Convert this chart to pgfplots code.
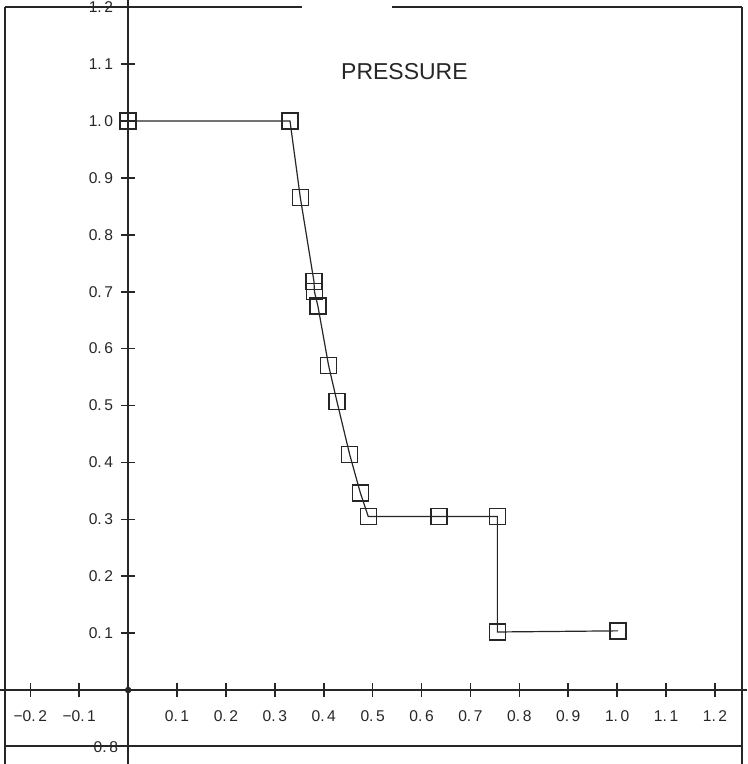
\documentclass[border=0pt]{standalone}
\usepackage{fontspec}
\setmainfont{Liberation Sans}
\usepackage{pgfplots}
\pgfplotsset{compat=1.18}

\definecolor{ink}{gray}{0.15}

\begin{document}
\begin{tikzpicture}
\begin{axis}[
  scale only axis,
  width=373.5pt, height=382pt,
  xmin=-0.262, xmax=1.2655,
  ymin=-0.130, ymax=1.2127,
  axis lines=middle,
  axis line style={-, line width=0.9pt, ink},
  clip=false,
  xtick={-0.2,-0.1,0.1,0.2,0.3,0.4,0.5,0.6,0.7,0.8,0.9,1.0,1.1,1.2},
  xticklabels={−0.\,2,−0.\,1,0.\,1,0.\,2,0.\,3,0.\,4,0.\,5,0.\,6,0.\,7,0.\,8,0.\,9,1.\,0,1.\,1,1.\,2},
  ytick={0.1,0.2,0.3,0.4,0.5,0.6,0.7,0.8,0.9,1.0,1.1,1.2},
  yticklabels={0.\,1,0.\,2,0.\,3,0.\,4,0.\,5,0.\,6,0.\,7,0.\,8,0.\,9,1.\,0,1.\,1,1.\,2},
  tick align=center,
  major tick length=7pt,
  tick style={line width=0.8pt, ink},
  every tick label/.append style={font=\fontsize{7.8}{9}\selectfont, text=ink},
  xticklabel style={anchor=north, yshift=-3.5pt},
  yticklabel style={anchor=east, xshift=-0.5pt},
]
  % pressure profile
  \addplot[line width=0.6pt, ink, mark=square, mark size=4pt,
           mark options={line width=0.7pt, fill=none}]
    coordinates {
      (0.000,1.000) (0.331,1.000) (0.352,0.866) (0.380,0.718)
      (0.381,0.700) (0.388,0.675) (0.410,0.570) (0.427,0.507)
      (0.453,0.414) (0.475,0.346) (0.491,0.305) (0.636,0.305)
      (0.755,0.305) (0.755,0.102) (1.002,0.104)
    };
  % origin dot
  \addplot[only marks, mark=*, mark size=1.4pt, ink] coordinates {(0,0)};

  % page frame
  \draw[line width=0.9pt, ink] (axis cs:-0.2515,1.2) -- (axis cs:-0.2515,-0.130);
  \draw[line width=0.9pt, ink] (axis cs:1.2556,1.2) -- (axis cs:1.2556,-0.130);
  \draw[line width=0.9pt, ink] (axis cs:-0.2515,1.2) -- (axis cs:0.356,1.2);
  \draw[line width=0.9pt, ink] (axis cs:0.540,1.2) -- (axis cs:1.2556,1.2);
  \draw[line width=0.9pt, ink] (axis cs:-0.2515,-0.098) -- (axis cs:1.2556,-0.098);
  \node[anchor=east, font=\fontsize{7.8}{9}\selectfont, text=ink, inner sep=0pt]
    at (axis cs:-0.020,-0.101) {0.\,8};

  \node[font=\fontsize{11.5}{13}\selectfont, text=ink] at (axis cs:0.565,1.086) {PRESSURE};

  \coordinate (bl) at (rel axis cs:0,0);
  \coordinate (tr) at (rel axis cs:1,1);
\end{axis}
\pgfresetboundingbox
\useasboundingbox (bl) rectangle (tr);
\end{tikzpicture}
\end{document}
